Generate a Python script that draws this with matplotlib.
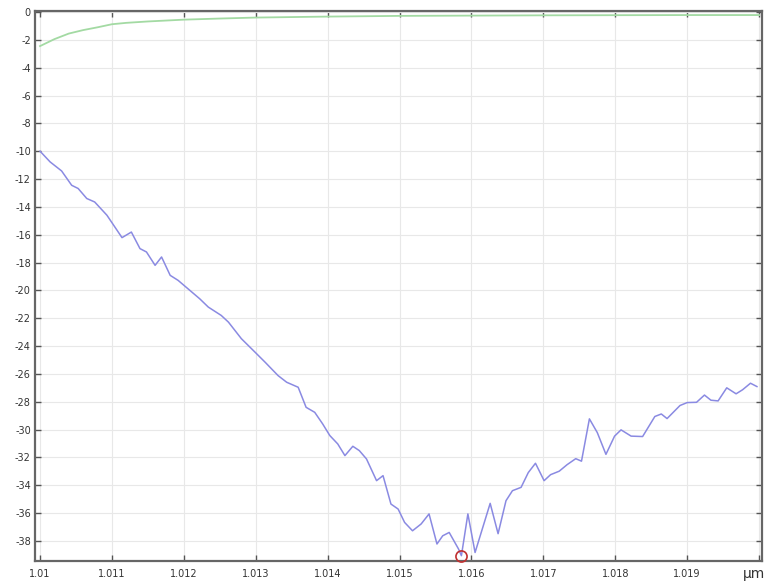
import matplotlib
matplotlib.use("Agg")
import matplotlib.pyplot as plt
import numpy as np

# Wellenlänge in µm und Streuparameter in dB
wl_s21 = [1.01, 1.01014, 1.01030, 1.01044, 1.01053, 1.01065, 1.01076, 1.01093,
          1.01114, 1.01127, 1.01139, 1.01148, 1.01160, 1.01169, 1.01181, 1.01192,
          1.01222, 1.01234, 1.01252, 1.01262, 1.01280, 1.01299, 1.01313, 1.01331,
          1.01343, 1.01359, 1.01370, 1.01382, 1.01393, 1.01403, 1.01414, 1.01424,
          1.01435, 1.01444, 1.01454, 1.01468, 1.01477, 1.01488, 1.01498, 1.01507,
          1.01518, 1.01530, 1.01541, 1.01552, 1.01560, 1.01569, 1.01582, 1.01586,
          1.01595, 1.01605, 1.01626, 1.01637, 1.01648, 1.01657, 1.01669, 1.01679,
          1.01689, 1.01701, 1.01710, 1.01722, 1.01733, 1.01745, 1.01753, 1.01764,
          1.01775, 1.01787, 1.01799, 1.01808, 1.01822, 1.01838, 1.01855, 1.01864,
          1.01872, 1.01890, 1.01900, 1.01913, 1.01924, 1.01933, 1.01943, 1.01955,
          1.01968, 1.01977, 1.01988, 1.01997]
s21_db = [-10.0, -10.77, -11.42, -12.45, -12.68, -13.40, -13.65, -14.60,
          -16.21, -15.81, -17.00, -17.24, -18.20, -17.60, -18.92, -19.28,
          -20.60, -21.20, -21.80, -22.28, -23.47, -24.44, -25.16, -26.12,
          -26.60, -26.96, -28.40, -28.76, -29.59, -30.43, -31.03, -31.87,
          -31.20, -31.51, -32.11, -33.67, -33.31, -35.35, -35.71, -36.67,
          -37.27, -36.78, -36.06, -38.22, -37.63, -37.39, -38.58, -39.06,
          -36.06, -38.83, -35.30, -37.48, -35.11, -34.39, -34.15, -33.09,
          -32.42, -33.67, -33.24, -32.99, -32.52, -32.09, -32.27, -29.23,
          -30.22, -31.78, -30.47, -30.02, -30.47, -30.50, -29.06, -28.88,
          -29.21, -28.27, -28.06, -28.04, -27.52, -27.89, -27.94, -27.00,
          -27.43, -27.14, -26.67, -26.91]

wl_s11 = [1.0100, 1.0102, 1.0104, 1.0106, 1.0108, 1.0110, 1.0112, 1.0115,
          1.0120, 1.0125, 1.0130, 1.0140, 1.0150, 1.0160, 1.0170, 1.0180,
          1.0190, 1.0200]
s11_db = [-2.45, -1.95, -1.55, -1.30, -1.10, -0.88, -0.78, -0.68,
          -0.55, -0.47, -0.40, -0.33, -0.28, -0.26, -0.24, -0.23,
          -0.22, -0.22]

xticks = [1.01, 1.011, 1.012, 1.013, 1.014, 1.015, 1.016, 1.017, 1.018, 1.019, 1.02]
xtick_labels = ["1.01", "1.011", "1.012", "1.013", "1.014", "1.015", "1.016",
                "1.017", "1.018", "1.019", ""]
yticks = list(range(0, -40, -2))

fig = plt.figure(figsize=(7.71, 5.86), dpi=100)
ax = fig.add_axes([0.0454, 0.0427, 0.9429, 0.9385])

ax.plot(wl_s11, s11_db, color="#a3daa3", lw=1.3)
ax.plot(wl_s21, s21_db, color="#8a8ae2", lw=1.1)

# Minimum markieren
i_min = int(np.argmin(s21_db))
ax.plot(wl_s21[i_min], s21_db[i_min], "o", ms=8, mfc="none", mec="#c03030",
        mew=1.2, clip_on=False, zorder=5)

ax.set_xlim(1.00993, 1.02004)
ax.set_ylim(-39.44, 0.07)
ax.set_xticks(xticks)
ax.set_xticklabels(xtick_labels)
ax.set_yticks(yticks)
ax.set_yticklabels([str(v) for v in yticks])

ax.grid(True, color="#e8e8e8", lw=0.8)
ax.set_axisbelow(True)
ax.tick_params(direction="in", top=True, right=True, length=4, width=1,
               color="#555555", labelsize=7, labelcolor="#333333", pad=3)
ax.tick_params(axis="x", pad=6)
for sp in ax.spines.values():
    sp.set_color("#666666")
    sp.set_linewidth(1.6)

fig.text(0.978, 0.008, "µm", fontsize=10, color="#333333", ha="center", va="bottom")

fig.savefig("out.png", dpi=100)
